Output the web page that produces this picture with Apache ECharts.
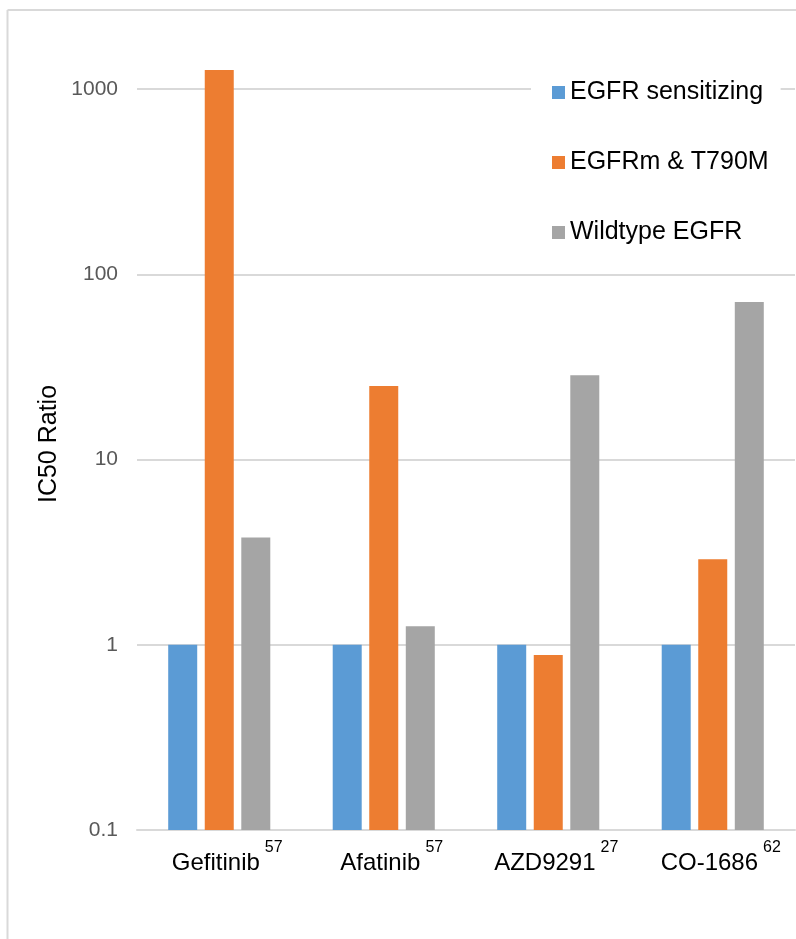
<!DOCTYPE html>
<html>
<head>
<meta charset="utf-8">
<script src="https://cdn.jsdelivr.net/npm/echarts@6/dist/echarts.min.js"></script>
<style>
html,body{margin:0;padding:0;background:#fff;}
#chart{width:796px;height:939px;}
</style>
</head>
<body>
<div id="chart"></div>
<script>
var drugs = ['Gefitinib', 'Afatinib', 'AZD9291', 'CO-1686'];
var refs = ['57', '57', '27', '62'];
var seriesNames = ['EGFR sensitizing', 'EGFRm & T790M', 'Wildtype EGFR'];
var egfrSensitizing = [1, 1, 1, 1];
var egfrT790M = [1270, 25, 0.88, 2.9];
var wildtype = [3.8, 1.26, 28.5, 71];
var yTicks = ['0.1', '1', '10', '100', '1000', '10000'];
var yAxisTitle = 'IC50 Ratio';
var colors = ['#5B9BD5', '#ED7D31', '#A5A5A5'];

// Log-10 axis with floor 0.1: plotted position = log10(value) - log10(0.1)
var AXIS_FLOOR = 0.1;
function toAxis(v) { return Math.log10(v) - Math.log10(AXIS_FLOOR); }

var chart = echarts.init(document.getElementById('chart'));
var values = [egfrSensitizing, egfrT790M, wildtype];
var series = seriesNames.map(function (n, i) {
  return {
    name: n,
    type: 'bar',
    data: values[i].map(toAxis),
    barWidth: 29,
    barGap: '26%',
    itemStyle: { color: colors[i] }
  };
});
chart.setOption({
  animation: false,
  backgroundColor: '#fff',
  textStyle: { fontFamily: 'Liberation Sans, Arial, sans-serif' },
  graphic: [
    { type: 'line', shape: { x1: 7.5, y1: 10, x2: 796, y2: 10 }, style: { stroke: '#D9D9D9', lineWidth: 2 } },
    { type: 'line', shape: { x1: 7.5, y1: 10, x2: 7.5, y2: 939 }, style: { stroke: '#D9D9D9', lineWidth: 2 } },
    {
      type: 'text', x: 49, y: 444, rotation: Math.PI / 2,
      style: { text: yAxisTitle, fontSize: 25, fill: '#000', align: 'center', verticalAlign: 'middle',
               fontFamily: 'Liberation Sans, Arial, sans-serif' }
    }
  ],
  grid: { left: 137, right: 1, top: -96, bottom: 109, containLabel: false, outerBoundsMode: 'none' },
  legend: {
    orient: 'vertical',
    left: 531,
    top: 70,
    padding: [10, 12, 10, 21],
    backgroundColor: '#fff',
    itemWidth: 13,
    itemHeight: 13,
    itemGap: 45,
    icon: 'rect',
    data: seriesNames,
    textStyle: { fontSize: 25, color: '#000', fontFamily: 'Liberation Sans, Arial, sans-serif' }
  },
  xAxis: {
    type: 'category',
    data: drugs,
    axisLine: { lineStyle: { color: '#D9D9D9', width: 2 } },
    axisTick: { show: false },
    axisLabel: {
      interval: 0,
      margin: 10,
      formatter: function (v, idx) { return '{m|' + v + '}{sup|' + refs[idx] + '}'; },
      color: '#000',
      fontSize: 24,
      rich: {
        m: { fontSize: 24, color: '#000', padding: [0, 0, 0, 16] },
        sup: { fontSize: 16, color: '#000', padding: [0, 0, 30, 5] }
      }
    }
  },
  yAxis: {
    type: 'value',
    min: 0,
    max: 5,
    interval: 1,
    axisLine: { show: false },
    axisTick: { show: false },
    axisLabel: {
      fontSize: 21,
      color: '#595959',
      margin: 19,
      formatter: function (v) { return yTicks[Math.round(v)] || ''; }
    },
    splitLine: { lineStyle: { color: '#D9D9D9', width: 2 } }
  },
  series: series
});
</script>
</body>
</html>
